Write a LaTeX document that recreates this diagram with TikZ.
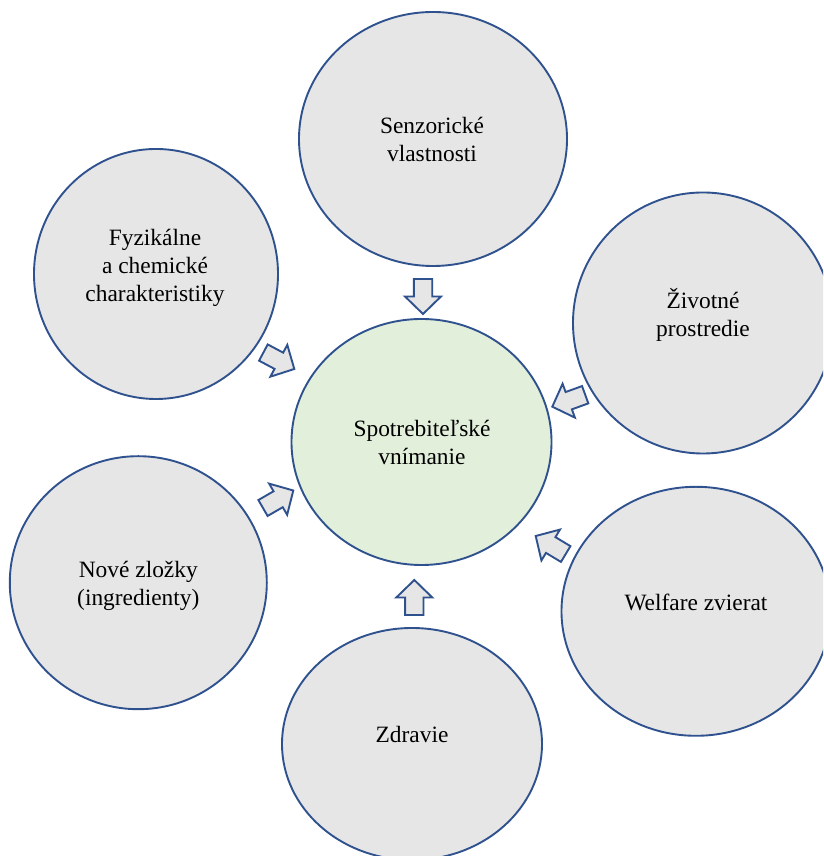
\documentclass[tikz,border=0pt]{standalone}
\usepackage{fontspec}
\setmainfont{Liberation Serif}
\usetikzlibrary{shapes.geometric}
\definecolor{edgeblue}{HTML}{2F528F}
\definecolor{bubblegray}{HTML}{E6E6E6}
\definecolor{coregreen}{HTML}{E2EFDA}
\tikzset{
  bubble/.style={ellipse, draw=edgeblue, line width=1.9pt, fill=bubblegray, inner sep=0pt},
  corebubble/.style={bubble, fill=coregreen},
  lbl/.style={align=center, font=\fontsize{23.4}{28}\selectfont, text=black, inner sep=0pt},
  barrow/.style={draw=edgeblue, line width=1.9pt, fill=bubblegray, line join=miter},
  blockarrow/.pic={\path[barrow] (0,0) -- (-17.5,18) -- (-17.5,9.2) -- (-35,9.2) -- (-35,-9.2) -- (-17.5,-9.2) -- (-17.5,-18) -- cycle;}
}
\begin{document}
\begin{tikzpicture}[x=1pt,y=1pt]
\useasboundingbox (0,0) rectangle (823,856);
\clip (0,0) rectangle (823,856);
\fill[white] (0,0) rectangle (823,856);
% bubbles
\node[corebubble, minimum width=260pt, minimum height=246pt] (core) at (421.5,414) {};
\node[bubble, minimum width=268pt, minimum height=254pt] (senz) at (433,717) {};
\node[bubble, minimum width=244pt, minimum height=250pt] (fyz) at (156,582) {};
\node[bubble, minimum width=260pt, minimum height=261pt] (ziv) at (703,533) {};
\node[bubble, minimum width=257pt, minimum height=253pt] (nove) at (138.3,273.3) {};
\node[bubble, minimum width=269pt, minimum height=249pt] (welf) at (696,244.7) {};
\node[bubble, minimum width=260pt, minimum height=232pt] (zdr) at (412,112) {};
% labels
\node[lbl] (coreT) at (422,414) {Spotrebiteľské\\vnímanie};
\node[lbl] (senzT) at (432,717) {Senzorické\\vlastnosti};
\node[lbl] (fyzT) at (155,588.6) {Fyzikálne\\a chemické\\charakteristiky};
\node[lbl] (zivT) at (703,540.6) {Životné\\prostredie};
\node[lbl] (noveT) at (138.3,269.7) {Nové zložky\\(ingredienty)};
\node[lbl] (welfT) at (696,253.2) {Welfare zvierat};
\node[lbl] (zdrT) at (412,121.2) {Zdravie};
% arrow tips
\coordinate (tSenz) at (423,542);
\coordinate (tZdr) at (414.3,276);
\coordinate (tFyz) at (294.3,487);
\coordinate (tNove) at (293.3,365.5);
\coordinate (tZiv) at (552.3,449.3);
\coordinate (tWelf) at (535.7,320);
% block arrows
\pic (aSenz) [rotate=-90] at (tSenz) {blockarrow};
\pic (aZdr) [rotate=90] at (tZdr) {blockarrow};
\pic (aFyz) [rotate=-28] at (tFyz) {blockarrow};
\pic (aNove) [rotate=30] at (tNove) {blockarrow};
\pic (aZiv) [rotate=200] at (tZiv) {blockarrow};
\pic (aWelf) [rotate=149] at (tWelf) {blockarrow};
\end{tikzpicture}
\end{document}
